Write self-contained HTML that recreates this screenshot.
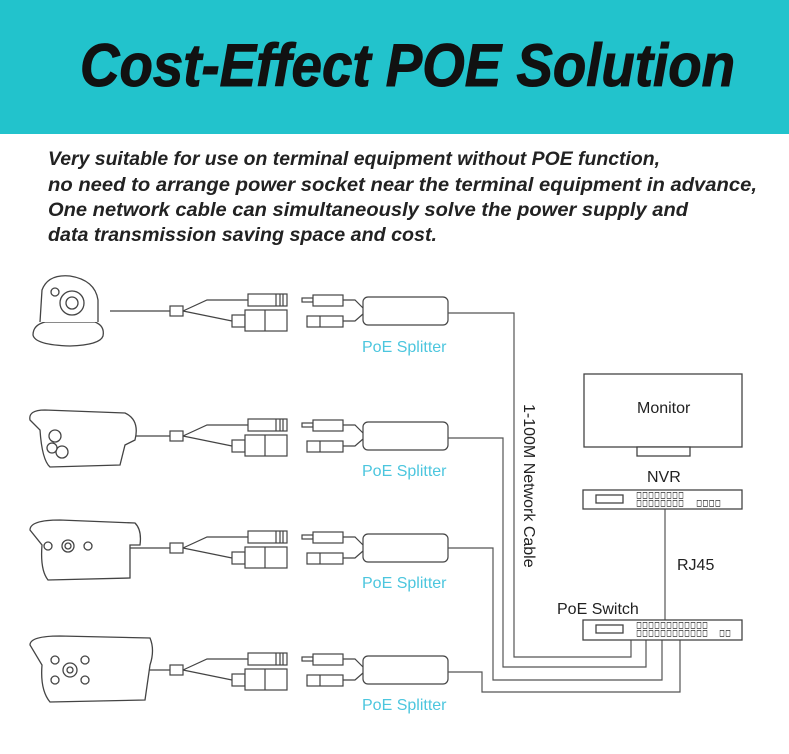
<!DOCTYPE html>
<html><head><meta charset="utf-8"><style>
html,body{margin:0;padding:0;background:#fff;}
svg{display:block;font-family:"Liberation Sans",sans-serif;}
</style></head><body>
<svg width="789" height="754" viewBox="0 0 789 754" xmlns="http://www.w3.org/2000/svg">
<rect x="0" y="0" width="789" height="134" fill="#22c3cc"/>
<text x="80" y="86" font-size="60" font-weight="bold" font-style="italic" fill="#111" stroke="#111" stroke-width="1" textLength="655" lengthAdjust="spacingAndGlyphs">Cost-Effect POE Solution</text>
<g font-size="19" font-weight="bold" font-style="italic" fill="#222">
<text x="48" y="165" textLength="612" lengthAdjust="spacingAndGlyphs">Very suitable for use on terminal equipment without POE function,</text>
<text x="48" y="191" textLength="709" lengthAdjust="spacingAndGlyphs">no need to arrange power socket near the terminal equipment in advance,</text>
<text x="48" y="216" textLength="640" lengthAdjust="spacingAndGlyphs">One network cable can simultaneously solve the power supply and</text>
<text x="48" y="241" textLength="389" lengthAdjust="spacingAndGlyphs">data transmission saving space and cost.</text>
</g>
<defs>
<g id="row" fill="#fff" stroke="#444" stroke-width="1.2">
<line x1="110" y1="0" x2="170" y2="0"/>
<rect x="170" y="-5" width="13" height="10"/>
<path d="M183 0 L207 -11 L248 -11 M183 0 L232 10" fill="none"/>
<rect x="248" y="-17" width="39" height="12"/>
<line x1="276" y1="-17" x2="276" y2="-5"/><line x1="280" y1="-17" x2="280" y2="-5"/><line x1="283" y1="-17" x2="283" y2="-5"/>
<rect x="232" y="4" width="13" height="12"/>
<rect x="245" y="-1" width="42" height="21"/>
<line x1="265" y1="-1" x2="265" y2="20"/>
<rect x="302" y="-13" width="11" height="4"/>
<rect x="313" y="-16" width="30" height="11"/>
<rect x="307" y="5" width="36" height="11"/>
<line x1="320" y1="5" x2="320" y2="16"/>
<path d="M343 -11 L355 -11 L363 -3 M343 10 L355 10 L363 3" fill="none"/>
<rect x="363" y="-14" width="85" height="28" rx="5"/>
</g>
</defs>
<use href="#row" transform="translate(0,311)"/>
<use href="#row" transform="translate(0,436)"/>
<use href="#row" transform="translate(0,548)"/>
<use href="#row" transform="translate(0,670)"/>
<g font-size="16" fill="#4cc6de">
<text x="362" y="352">PoE Splitter</text>
<text x="362" y="476">PoE Splitter</text>
<text x="362" y="588">PoE Splitter</text>
<text x="362" y="710">PoE Splitter</text>
</g>
<!-- cameras -->
<g fill="#fff" stroke="#444" stroke-width="1.3">
<path d="M33 335 Q33 325 45 322 L95 322 Q105 326 103 336 Q100 345 70 346 Q35 345 33 335 Z"/>
<path d="M40 322 L42 290 Q48 274 70 276 Q95 280 98 300 L98 322"/>
<circle cx="72" cy="303" r="12"/><circle cx="72" cy="303" r="6"/><circle cx="55" cy="292" r="4"/>
<path d="M30 420 Q28 410 45 410 L125 413 Q140 420 135 440 L125 445 L120 465 L50 467 Q42 460 40 430 Z"/>
<circle cx="55" cy="436" r="6"/><circle cx="62" cy="452" r="6"/><circle cx="52" cy="448" r="5"/>
<path d="M30 530 Q30 520 60 520 L135 523 Q142 530 140 545 L130 545 L130 578 L48 580 Q40 570 42 545 Z"/>
<circle cx="48" cy="546" r="4"/><circle cx="68" cy="546" r="6"/><circle cx="68" cy="546" r="3"/><circle cx="88" cy="546" r="4"/>
<path d="M30 645 Q30 636 60 636 L150 638 Q155 650 150 665 L145 700 L50 702 Q40 690 42 665 Z"/>
<circle cx="70" cy="670" r="7"/><circle cx="70" cy="670" r="3"/><circle cx="55" cy="660" r="4"/><circle cx="85" cy="660" r="4"/><circle cx="55" cy="680" r="4"/><circle cx="85" cy="680" r="4"/>
</g>
<!-- cables -->
<g fill="none" stroke="#555" stroke-width="1.2">
<path d="M448 313 L514 313 L514 657 L631 657 L631 640"/>
<path d="M448 438 L503 438 L503 667 L646 667 L646 640"/>
<path d="M448 548 L493 548 L493 680 L662 680 L662 640"/>
<path d="M448 672 L482 672 L482 692 L680 692 L680 640"/>
<line x1="665" y1="509" x2="665" y2="620"/>
</g>
<!-- devices -->
<g fill="#fff" stroke="#444" stroke-width="1.3">
<rect x="584" y="374" width="158" height="73"/>
<rect x="637" y="447" width="53" height="9"/>
<rect x="583" y="490" width="159" height="19"/>
<rect x="596" y="495" width="27" height="8"/>
<rect x="583" y="620" width="159" height="20"/>
<rect x="596" y="625" width="27" height="8"/>
</g>
<g font-size="14" fill="#333" font-family="DejaVu Sans,sans-serif">
<text x="636" y="499" textLength="48" lengthAdjust="spacingAndGlyphs">▫▫▫▫▫▫▫▫</text>
<text x="636" y="507" textLength="48" lengthAdjust="spacingAndGlyphs">▫▫▫▫▫▫▫▫</text>
<text x="696" y="507" textLength="25" lengthAdjust="spacingAndGlyphs">▫▫▫▫</text>
<text x="636" y="629" textLength="72" lengthAdjust="spacingAndGlyphs">▫▫▫▫▫▫▫▫▫▫▫▫</text>
<text x="636" y="637" textLength="72" lengthAdjust="spacingAndGlyphs">▫▫▫▫▫▫▫▫▫▫▫▫</text>
<text x="719" y="637" textLength="12" lengthAdjust="spacingAndGlyphs">▫▫</text>
</g>
<g font-size="16" fill="#222">
<text x="637" y="413">Monitor</text>
<text x="647" y="482">NVR</text>
<text x="677" y="570">RJ45</text>
<text x="557" y="614">PoE Switch</text>
<text transform="translate(524,404) rotate(90)">1-100M Network Cable</text>
</g>
</svg>
</body></html>
